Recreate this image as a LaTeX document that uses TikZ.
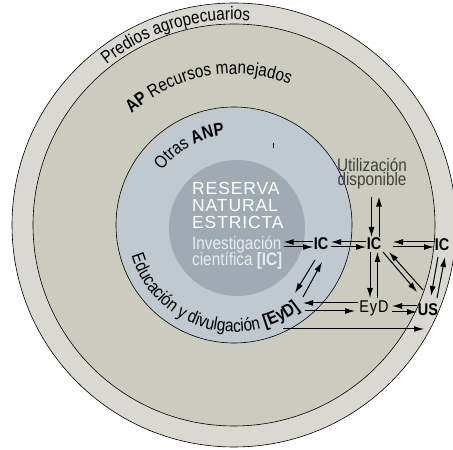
\documentclass[tikz,border=0pt]{standalone}
\usepackage{fontspec}
\setmainfont{Liberation Sans}
\newfontfamily\cf{Liberation Sans}[FakeStretch=0.85]
\newfontfamily\resf{Liberation Sans}[LetterSpace=5]
\usetikzlibrary{arrows.meta,decorations.text,calc}
\definecolor{outerc}{HTML}{D9D9D1}
\definecolor{apc}{HTML}{CBCBBE}
\definecolor{anpc}{HTML}{C0C8D0}
\definecolor{resc}{HTML}{A0AAB2}
\definecolor{invc}{HTML}{E8EBEE}
\definecolor{utilc}{HTML}{404040}
\newcommand\mytxt{\cf\fontsize{18}{18}\selectfont}
\newcommand\mybold{\cf\bfseries\fontsize{18}{18}\selectfont}
\begin{document}
\begin{tikzpicture}[x=1pt,y=1pt,
  ring/.style={draw=black,line width=0.6pt},
  arr/.style={draw=black,line width=1pt,-{Latex[length=10pt,width=6pt]}},
  lab/.style={inner sep=0pt,font=\cf\bfseries\fontsize{17}{17}\selectfont},
  labn/.style={inner sep=0pt,font=\cf\fontsize{17}{17}\selectfont},
  restxt/.style={anchor=base west,inner sep=0pt,text=white,font=\resf\fontsize{17.5}{17.5}\selectfont},
  invtxt/.style={anchor=base west,inner sep=0pt,text=invc,font=\mytxt}]
\useasboundingbox (0,0) rectangle (453,450);
\clip (0,0) rectangle (453,450);
\coordinate (C) at (234,225);
\filldraw[fill=outerc,ring] (C) circle[radius=222];
\filldraw[fill=apc,ring] (C) circle[radius=201];
\filldraw[fill=anpc,ring] (C) circle[radius=118];
\fill[resc] (237,222) circle[radius=68];
% curved labels
\path[decorate,decoration={text along path,text align=center,
  text={|\mytxt|Predios agropecuarios}}]
  ([shift={(150:205)}]C) arc[start angle=150,end angle=64,radius=205];
\path[decorate,decoration={text along path,text align=center,
  text={|\mybold|AP |\mytxt|Recursos manejados}}]
  ([shift={(135:151)}]C) arc[start angle=135,end angle=66,radius=151];
\path[decorate,decoration={text along path,text align=center,
  text={|\mytxt|Otras |\mybold|ANP}}]
  ([shift={(150:90)}]C) arc[start angle=150,end angle=89,radius=90];
\path[decorate,decoration={text along path,text align=center,
  text={|\mytxt|Educación y divulgación |\mybold|[EyD]}}]
  ([shift={(185:107)}]C) arc[start angle=185,end angle=320,radius=107];
% small tick
\draw[line width=0.8pt] (273.5,302) -- (273.5,307);
% inner texts
\node[restxt] (r1) at (192,255) {RESERVA};
\node[restxt] (r2) at (192,238) {NATURAL};
\node[restxt] (r3) at (192,221) {ESTRICTA};
\node[invtxt] (inv) at (192,200) {Investigación};
\node[invtxt] (cie) at (192,184) {científica {\bfseries[IC]}};
% nodes
\node[lab] (ic1) at (321,206) {IC};
\node[lab] (ic2) at (374,206) {IC};
\node[lab] (ic3) at (442,205) {IC};
\node[labn] (eyd) at (374,142) {E\kern1pt y\kern1pt D};
\node[lab] (us) at (428,140) {US};
\node[inner sep=0pt,anchor=north,align=center,text=utilc,
  font=\cf\fontsize{18}{12.5}\selectfont] (util) at (372,292) {Utilización\\disponible};
\coordinate (eb) at (290,145);
\coordinate (kout) at (424,121);
% arrows
\draw[arr] ([shift={(-8,2)}]ic1.center) -- ([shift={(2,8)}]inv.base east);
\draw[arr] ([shift={(2,3)}]inv.base east) -- ([shift={(-8,-3)}]ic1.center);
\draw[arr] ([shift={(-8,2)}]ic2.center) -- ([shift={(10,2)}]ic1.center);
\draw[arr] ([shift={(10,-3)}]ic1.center) -- ([shift={(-8,-3)}]ic2.center);
\draw[arr] ([shift={(-8,3)}]ic3.center) -- ([shift={(19,2)}]ic2.center);
\draw[arr] ([shift={(19,-3)}]ic2.center) -- ([shift={(-8,-2)}]ic3.center);
\draw[arr] ([shift={(-0.5,-7)}]util.south) -- ([shift={(-2.5,7)}]ic2.center);
\draw[arr] ([shift={(5,7)}]ic2.center) -- ([shift={(7,-7)}]util.south);
\draw[arr] ([shift={(-4,-8)}]ic2.center) -- ([shift={(-4,10)}]eyd.center);
\draw[arr] ([shift={(3.5,10)}]eyd.center) -- ([shift={(3.5,-8)}]ic2.center);
\draw[arr] ([shift={(9,-8)}]ic2.center) -- ([shift={(-11,18)}]us.center);
\draw[arr] ([shift={(-5,20)}]us.center) -- ([shift={(15,-8)}]ic2.center);
\draw[arr] ([shift={(-4,-12)}]ic3.center) -- ([shift={(3,14)}]us.center);
\draw[arr] ([shift={(9,12)}]us.center) -- ([shift={(3,-12)}]ic3.center);
\draw[arr] ([shift={(-11,4)}]us.center) -- ([shift={(18,2)}]eyd.center);
\draw[arr] ([shift={(18,-4)}]eyd.center) -- ([shift={(-11,-2)}]us.center);
\draw[arr] ([shift={(-16,5)}]eyd.center) -- ([shift={(13,2)}]eb);
\draw[arr] ([shift={(15,-6)}]eb) -- ([shift={(-19,-3)}]eyd.center);
\draw[arr] ([shift={(-6,-16)}]ic1.center) -- ([shift={(5,12)}]eb);
\draw[arr] ([shift={(13,8)}]eb) -- ([shift={(1,-18)}]ic1.center);
\draw[arr] ([shift={(-7,-24)}]eb) -- (kout);
\end{tikzpicture}
\end{document}
